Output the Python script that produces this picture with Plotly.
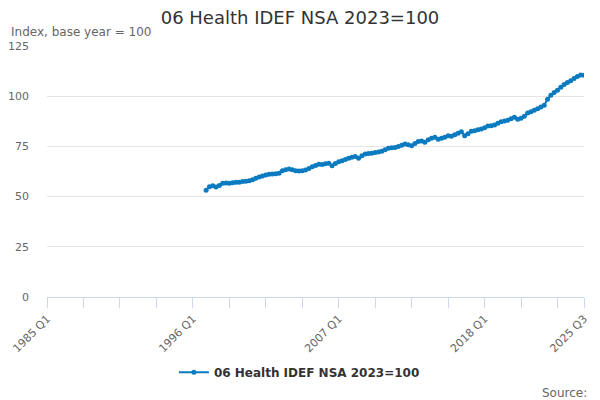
import plotly.graph_objects as go

# Quarter labels for the whole axis, 1985 Q1 .. 2025 Q3
quarters = [f"{y} Q{q}" for y in range(1985, 2026) for q in range(1, 5)][:163]

# Series starts at 1997 Q1
start_label = "1997 Q1"
values = [
    53.2, 54.9, 55.4, 54.8, 55.5, 56.6, 56.8, 56.7, 56.9, 57.1,
    57.2, 57.5, 57.7, 57.9, 58.4, 59.1, 59.8, 60.3, 60.8, 61.1,
    61.3, 61.4, 61.6, 62.9, 63.4, 63.7, 63.4, 62.9, 62.7, 62.9,
    63.2, 64.0, 64.9, 65.5, 66.1, 66.0, 66.3, 66.6, 65.4, 66.5,
    67.3, 67.8, 68.5, 69.1, 69.6, 70.0, 69.1, 70.3, 71.2, 71.5,
    71.6, 71.9, 72.2, 72.6, 73.3, 74.1, 74.3, 74.5, 75.0, 75.6,
    76.2, 75.8, 75.3, 76.5, 77.5, 77.7, 77.1, 78.3, 79.0, 79.5,
    78.6, 79.0, 79.6, 80.3, 80.0, 80.8, 81.6, 82.3, 80.3, 81.3,
    82.5, 82.8, 83.3, 83.7, 84.3, 85.2, 85.3, 85.6, 86.5, 87.3,
    87.6, 88.0, 88.8, 89.5, 88.5, 89.0, 90.0, 91.6, 92.2, 93.0,
    93.8, 94.6, 95.5, 98.5, 100.5, 101.8, 103.0, 104.5, 105.8, 106.8,
    107.7, 108.8, 109.8, 110.5, 110.4,
]

tick_labels = ["1985 Q1", "1996 Q1", "2007 Q1", "2018 Q1", "2025 Q3"]
y_ticks = [0, 25, 50, 75, 100, 125]

first = quarters.index(start_label)
x_idx = list(range(first, first + len(values)))
x_text = quarters[first:first + len(values)]

blue = "#0b7bc1"
grey = "#666666"

fig = go.Figure()
fig.add_trace(go.Scatter(
    x=x_idx,
    y=values,
    customdata=x_text,
    mode="lines+markers",
    line=dict(color=blue, width=2),
    marker=dict(color=blue, size=5),
    name="06 Health IDEF NSA 2023=100",
    showlegend=True,
    hovertemplate="%{customdata}: %{y}<extra></extra>",
))

fig.update_layout(
    width=600,
    height=400,
    margin=dict(l=47, r=16, t=46, b=103),
    paper_bgcolor="white",
    plot_bgcolor="white",
    font=dict(family="DejaVu Sans", color=grey, size=11),
    title=dict(
        text="06 Health IDEF NSA 2023=100",
        x=0.5, xanchor="center", y=0.955, yanchor="middle",
        font=dict(size=18, color="#333333"),
    ),
    xaxis=dict(
        range=[0, len(quarters) - 1],
        tickmode="array",
        tickvals=[quarters.index(t) for t in tick_labels],
        ticktext=tick_labels,
        tickangle=-45,
        ticks="outside",
        ticklen=10,
        tickcolor="#ccd6eb",
        showline=True,
        linecolor="#ccd6eb",
        showgrid=False,
        zeroline=False,
        automargin=False,
        minor=dict(tick0=0, dtick=11, ticks="outside", ticklen=10,
                   tickcolor="#ccd6eb", showgrid=False),
        tickfont=dict(size=11, color=grey),
    ),
    yaxis=dict(
        range=[0, 125],
        tickvals=y_ticks,
        showgrid=True,
        gridcolor="#e6e6e6",
        zeroline=False,
        automargin=False,
        ticks="",
        tickfont=dict(size=11, color=grey),
        ticklabelstandoff=17,
    ),
    legend=dict(
        orientation="h",
        x=0.47, xanchor="center",
        y=-0.3, yanchor="middle",
        font=dict(size=12, color="#333333", weight="bold"),
    ),
    annotations=[
        dict(text="Index, base year = 100", xref="paper", yref="paper",
             x=-0.07, y=1.02, xanchor="left", yanchor="bottom",
             showarrow=False, font=dict(size=12, color=grey)),
        dict(text="Source:", xref="paper", yref="paper",
             x=1.01, y=-0.345, xanchor="right", yanchor="top",
             showarrow=False, font=dict(size=12, color=grey)),
    ],
)

fig.write_html("out.html", config={"displayModeBar": False},
               post_script="document.body.style.margin='0';")
